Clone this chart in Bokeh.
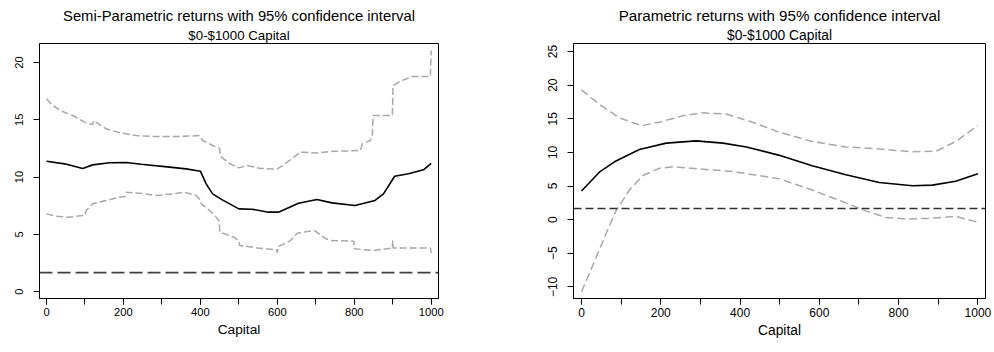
from bokeh.plotting import figure
from bokeh.layouts import row
from bokeh.models import Range1d, SingleIntervalTicker, FixedTicker, Title, Span
from bokeh.embed import file_html
from bokeh.resources import INLINE

FONT = "Liberation Sans"

# ---------------- data: semi-parametric (left) ----------------
semi_est_x = [0, 47, 94, 120, 164, 207, 246, 320, 363, 400, 415, 432, 457, 500, 534, 577, 603, 655, 703, 742,
              802, 854, 876, 905, 941, 980, 1000]
semi_est = [11.38, 11.15, 10.74, 11.06, 11.24, 11.27, 11.12, 10.86, 10.71, 10.51, 9.4, 8.53, 8.0, 7.22, 7.19,
            6.93, 6.93, 7.71, 8.03, 7.74, 7.51, 7.95, 8.53, 10.07, 10.28, 10.63, 11.2]

semi_upper_x = [0, 16, 42, 68, 99, 120, 122, 155, 190, 233, 276, 346, 398, 406, 432, 450, 452, 480, 500, 522,
                556, 600, 626, 660, 704, 747, 816, 821, 842, 847, 849, 899, 901, 920, 951, 998, 1000]
semi_upper = [16.83, 16.24, 15.72, 15.37, 14.79, 14.59, 14.93, 14.21, 13.86, 13.62, 13.54, 13.54, 13.62, 13.19,
              12.75, 12.5, 11.8, 11.1, 10.8, 11.0, 10.75, 10.7, 11.3, 12.17, 12.1, 12.25, 12.31, 12.9, 13.19,
              13.7, 15.37, 15.37, 17.99, 18.37, 18.78, 18.78, 21.05]

semi_lower_x = [0, 25, 60, 94, 100, 103, 120, 155, 190, 205, 207, 241, 285, 328, 359, 389, 400, 402, 424, 441,
                448, 451, 487, 500, 502, 548, 598, 600, 602, 634, 652, 695, 698, 726, 742, 799, 800, 851, 899, 900,
                901, 950, 998, 1000]
semi_lower = [6.78, 6.58, 6.49, 6.64, 6.7, 7.07, 7.66, 7.95, 8.24, 8.3, 8.67, 8.59, 8.38, 8.53, 8.67, 8.38, 8.0,
              7.66, 7.07, 6.5, 6.2, 5.18, 4.74, 4.45, 4.02, 3.81, 3.64, 3.4, 3.9, 4.45, 5.09, 5.33, 5.3, 4.6,
              4.45, 4.39, 3.73, 3.58, 3.81, 4.45, 3.81, 3.81, 3.81, 3.35]

# ---------------- data: parametric (right) ----------------
par_est_x = [0, 45, 87, 146, 214, 289, 357, 416, 497, 582, 667, 751, 835, 885, 944, 1000]
par_est = [4.27, 7.06, 8.73, 10.42, 11.38, 11.71, 11.38, 10.81, 9.6, 8.01, 6.67, 5.52, 5.04, 5.13, 5.71, 6.82]

par_upper_x = [0, 45, 96, 151, 197, 256, 303, 365, 424, 497, 582, 667, 751, 835, 894, 944, 1000]
par_upper = [19.31, 17.15, 15.13, 13.98, 14.5, 15.46, 15.9, 15.7, 14.64, 13.05, 11.61, 10.81, 10.52, 10.09,
             10.17, 11.61, 14.02]

par_lower_x = [0, 28, 62, 87, 121, 155, 197, 231, 298, 382, 497, 582, 667, 717, 768, 818, 877, 944, 1000]
par_lower = [-10.72, -6.87, -2.07, 1.3, 4.41, 6.57, 7.64, 7.87, 7.54, 7.15, 6.1, 4.41, 2.49, 1.3, 0.33, 0.09,
             0.19, 0.48, -0.39]

baseline = 1.65

title_left = "Semi-Parametric returns with 95% confidence interval"
title_right = "Parametric returns with 95% confidence interval"
subtitle = "$0-$1000 Capital"
xlabel = "Capital"
left_yticks = [0, 5, 10, 15, 20]
right_yticks = [-10, -5, 0, 5, 10, 15, 20, 25]

GRAY = "#a8a8a8"


def make_fig(width, xr, yr, yticks, borders, title, fs):
    p = figure(width=width, height=352, output_backend="svg", toolbar_location=None,
               x_range=Range1d(*xr), y_range=Range1d(*yr),
               min_border_left=borders[0], min_border_right=borders[1],
               min_border_top=borders[2], min_border_bottom=borders[3])
    p.title.visible = False
    p.grid.visible = False
    p.background_fill_color = "white"
    p.border_fill_color = "white"
    p.outline_line_color = "black"
    p.outline_line_width = 1
    p.outline_line_alpha = 1

    p.xaxis.ticker = SingleIntervalTicker(interval=200, num_minor_ticks=2)
    p.yaxis.ticker = FixedTicker(ticks=yticks)
    for ax in (p.xaxis[0], p.yaxis[0]):
        ax.axis_line_color = "black"
        ax.major_tick_line_color = "black"
        ax.minor_tick_line_color = "black"
        ax.major_tick_out = 6
        ax.major_tick_in = 0
        ax.minor_tick_out = 6
        ax.minor_tick_in = 0
        ax.major_label_text_font = FONT
        ax.major_label_text_font_size = fs["tick"]
        ax.major_label_text_color = "black"
        ax.axis_label_text_font = FONT
        ax.axis_label_text_font_style = "normal"
        ax.axis_label_text_color = "black"
    p.yaxis.minor_tick_line_color = None
    p.yaxis.major_label_orientation = "vertical"
    p.yaxis.major_label_standoff = 10
    p.xaxis.major_label_standoff = fs["xstand"]
    p.xaxis.axis_label = xlabel
    p.xaxis.axis_label_text_font_size = fs["label"]
    p.xaxis.axis_label_standoff = fs["lstand"]

    p.add_layout(Title(text=subtitle, align="center", text_font=FONT, text_font_style="normal",
                       text_font_size=fs["sub"], text_color="black", standoff=2), "above")
    p.add_layout(Title(text=title, align="center", text_font=FONT, text_font_style="normal",
                       text_font_size=fs["title"], text_color="black", standoff=2), "above")
    return p


p1 = make_fig(494, (-18.2, 1019), (-0.61, 21.66), left_yticks, (39, 56, 43, 54), title_left,
              {"tick": "11.2px", "label": "13.7px", "sub": "13.3px", "title": "14.8px", "xstand": 3, "lstand": 3})
p1.line(semi_upper_x, semi_upper, line_color=GRAY, line_width=1.5, line_dash="7 3")
p1.line(semi_lower_x, semi_lower, line_color=GRAY, line_width=1.5, line_dash="7 3")
p1.line(semi_est_x, semi_est, line_color="black", line_width=1.6)
p1.add_layout(Span(location=baseline, dimension="width", line_color="#404040", line_width=1.8,
                   line_dash="13 5"))

p2 = make_fig(500, (-20.2, 1019.2), (-11.73, 26.2), right_yticks, (79, 9, 43, 45), title_right,
              {"tick": "12px", "label": "13.8px", "sub": "13.8px", "title": "15.2px", "xstand": 3, "lstand": 3})
p2.line(par_upper_x, par_upper, line_color=GRAY, line_width=1.5, line_dash="8 4")
p2.line(par_lower_x, par_lower, line_color=GRAY, line_width=1.5, line_dash="8 4")
p2.line(par_est_x, par_est, line_color="black", line_width=1.6)
p2.add_layout(Span(location=baseline, dimension="width", line_color="#303030", line_width=1.6,
                   line_dash="8 4"))

layout = row(p1, p2)
open("out.html", "w").write(file_html(layout, INLINE))
